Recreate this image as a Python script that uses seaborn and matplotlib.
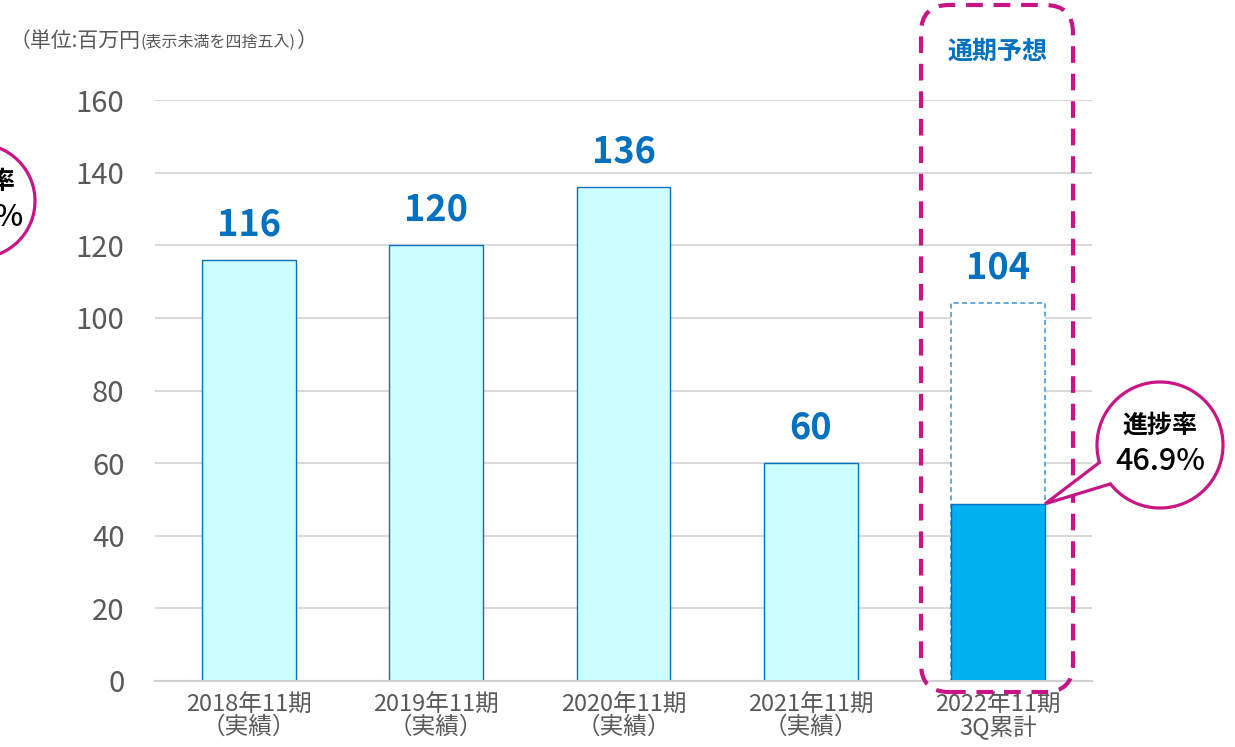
import numpy as np
import pandas as pd
import seaborn as sns
import matplotlib
import matplotlib.pyplot as plt
from matplotlib.patches import FancyBboxPatch, Polygon
from matplotlib.transforms import IdentityTransform

matplotlib.use('Agg')

# data
categories = ['2018年11期\n（実績）', '2019年11期\n（実績）', '2020年11期\n（実績）',
              '2021年11期\n（実績）', '2022年11期\n3Q累計']
values = [116, 120, 136, 60, 48.8]
kinds = ['実績', '実績', '実績', '実績', '3Q累計']
forecast = 104
value_labels = ['116', '120', '136', '60', '104']
progress_text = '46.9%'

W, H = 1235, 747
BLUE = '#0070C0'
MAGENTA = '#C71585'
GRAY = '#595959'

sns.set_style('white')
plt.rcParams['font.family'] = ['Noto Sans CJK JP', 'DejaVu Sans']

fig = plt.figure(figsize=(W / 100, H / 100), dpi=100)
ax = fig.add_axes([155 / W, 66 / H, (1092 - 155) / W, (681 - 100) / H])

df = pd.DataFrame({'期': categories, '売上': values, '区分': kinds})
sns.barplot(data=df, x='期', y='売上', hue='区分',
            palette={'実績': '#CCFFFF', '3Q累計': '#00B0F0'}, saturation=1,
            edgecolor=BLUE, linewidth=1, width=0.5, errorbar=None,
            legend=False, ax=ax, zorder=2)

# forecast outline (behind the actual bar)
ax.bar(4, forecast, width=0.5, facecolor='white', edgecolor='#4A9BDB',
       linestyle=(0, (3, 2)), linewidth=1.2, zorder=1.5)

for i, lab in enumerate(value_labels):
    top = forecast if i == 4 else values[i]
    ax.annotate(lab, (i, top), xytext=(0, 12), textcoords='offset points',
                ha='center', va='bottom', fontsize=26, color=BLUE,
                fontweight='bold')

ax.set_ylim(0, 160)
ax.set_xlim(-0.5, 4.5)
ax.set_yticks(range(0, 161, 20))
ax.set_xlabel('')
ax.set_ylabel('')
ax.set_axisbelow(True)
ax.yaxis.grid(True, color='#D9D9D9', linewidth=1.5)
for s in ['top', 'right', 'left']:
    ax.spines[s].set_visible(False)
ax.spines['bottom'].set_color('#D0D0D0')
ax.spines['bottom'].set_linewidth(1.5)
ax.tick_params(axis='y', length=0, pad=22, labelsize=21, labelcolor=GRAY)
ax.tick_params(axis='x', length=0, pad=9, labelsize=17, labelcolor=GRAY)
for t in ax.get_xticklabels():
    t.set_linespacing(0.95)

# dashed frame around the forecast column
frame = FancyBboxPatch((921 / W, 1 - 692 / H), 152 / W, 687 / H,
                       boxstyle='round,pad=0,rounding_size=%f' % (28 / W),
                       mutation_aspect=W / H, transform=fig.transFigure,
                       fill=False, edgecolor=MAGENTA, linewidth=3,
                       linestyle=(0, (4, 2.6)), clip_on=False)
fig.add_artist(frame)
fig.text(998 / W, 1 - 52 / H, '通期予想', ha='center', va='center',
         fontsize=18, fontweight='bold', color=BLUE)


def bubble(cx, cy, r, line1, line2, tip=None):
    # cx, cy in pixels from top-left; tip in display coords
    dcx, dcy = cx, H - cy
    if tip is not None:
        a_tip = np.arctan2(tip[1] - dcy, tip[0] - dcx)
        hw = np.radians(11)
        ang = np.linspace(a_tip + hw, a_tip - hw + 2 * np.pi, 200)
    else:
        ang = np.linspace(0, 2 * np.pi, 200)
    pts = np.column_stack([dcx + r * np.cos(ang), dcy + r * np.sin(ang)])
    if tip is not None:
        pts = np.vstack([pts, tip])
    poly = Polygon(pts, closed=True, facecolor='white', edgecolor=MAGENTA,
                   linewidth=2.3, transform=IdentityTransform(), zorder=5)
    fig.add_artist(poly)
    fig.text(cx / W, 1 - (cy - 19) / H, line1, ha='center', va='center',
             fontsize=18, fontweight='bold', color='black', zorder=6)
    fig.text(cx / W, 1 - (cy + 17) / H, line2, ha='center', va='center',
             fontsize=22, fontweight='medium', color='black', zorder=6)


tip = ax.transData.transform((4.25, values[4]))
bubble(1160, 445, 63, '進捗率', progress_text, tip=tip)
bubble(-22, 201, 57, '進捗率', '43.5%')

# unit note
fig.canvas.draw()
r = fig.canvas.get_renderer()
t1 = fig.text(10 / W, 1 - 47 / H, '（単位:百万円', fontsize=15, color=GRAY,
              va='baseline')
x = t1.get_window_extent(r).x1
t2 = fig.text(x / W, 1 - 47 / H, '(表示未満を四捨五入)', fontsize=11.5,
              color=GRAY, va='baseline')
x = t2.get_window_extent(r).x1
fig.text(x / W, 1 - 47 / H, '）', fontsize=15, color=GRAY, va='baseline')

fig.savefig('out.png', dpi=100)
